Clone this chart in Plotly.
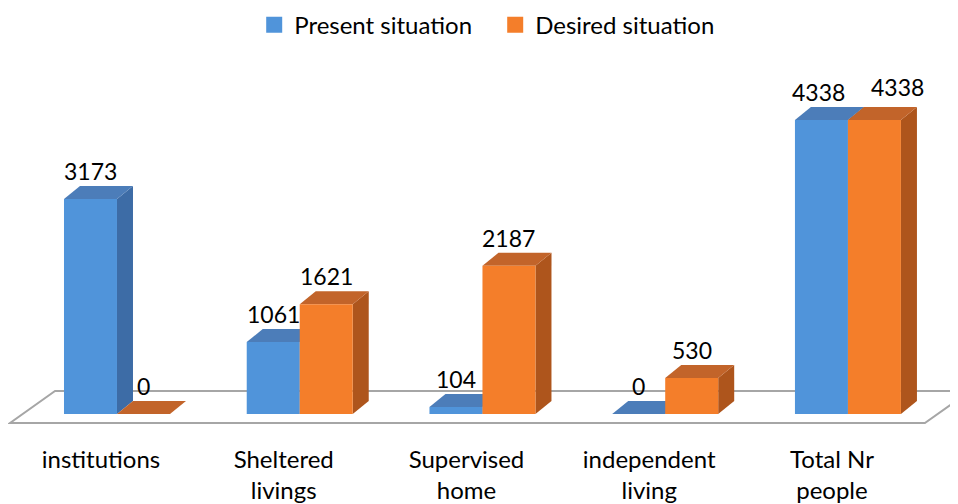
import plotly.graph_objects as go

categories = ["institutions", "Sheltered<br>livings", "Supervised<br>home", "independent<br>living", "Total Nr<br>people"]
present = [3173, 1061, 104, 0, 4338]
desired = [0, 1621, 2187, 530, 4338]
series_names = ["Present situation", "Desired situation"]

front_colors = ["#5094DA", "#F47E2A"]
side_colors = ["#3D6CA6", "#AE551C"]
top_colors = ["#4C7DB9", "#C2642A"]

BAR_W = 0.29          # bar width in category units
DX = 0.0876           # 3D depth offset (x units)
DY = 192              # 3D depth offset (y units)
FLOOR = dict(front_y=-133, back_y=339, left_front=-0.585, left_back=-0.339,
             right_front=4.421, right_back=4.668)

xs = list(range(len(categories)))
fig = go.Figure()
shapes = []

f = FLOOR
shapes.append(dict(type="path", layer="below", xref="x", yref="y",
                   path=f"M {f['left_front']},{f['front_y']} L {f['right_front']},{f['front_y']} "
                        f"L {f['right_back']},{f['back_y']} L {f['left_back']},{f['back_y']} Z",
                   line=dict(color="#A6A6A6", width=2), fillcolor="rgba(255,255,255,0)"))

for s, vals in enumerate([present, desired]):
    offset = -BAR_W if s == 0 else 0.0
    fig.add_trace(go.Bar(x=xs, y=vals, base=0, width=BAR_W, offset=offset,
                         name=series_names[s], marker=dict(color=front_colors[s], line=dict(width=0)),
                         hoverinfo="y", showlegend=False, legendgroup=series_names[s]))
    for i, v in zip(xs, vals):
        x0 = i + offset
        x1 = x0 + BAR_W
        if v > 0:
            shapes.append(dict(type="path", layer="below", xref="x", yref="y",
                               path=f"M {x1},0 L {x1},{v} L {x1+DX},{v+DY} L {x1+DX},{DY} Z",
                               fillcolor=side_colors[s], line=dict(width=0)))
        shapes.append(dict(type="path", layer="below", xref="x", yref="y",
                           path=f"M {x0},{v} L {x1},{v} L {x1+DX},{v+DY} L {x0+DX},{v+DY} Z",
                           fillcolor=top_colors[s], line=dict(width=0)))

# legend entries (square swatches)
for s in range(2):
    fig.add_trace(go.Scatter(x=[None], y=[None], mode="markers", name=series_names[s],
                             legendgroup=series_names[s],
                             marker=dict(symbol="square", size=16, color=front_colors[s])))

annotations = []
for s, vals in enumerate([present, desired]):
    offset = -BAR_W if s == 0 else 0.0
    for i, v in zip(xs, vals):
        clash = abs(present[i] - desired[i]) < 300 and present[i] > 0
        xshift = (23 if s == 1 else -3) if clash else 0
        yshift = 28 + (5 if (clash and s == 1) else 0)
        annotations.append(dict(x=i + offset + BAR_W / 2, y=v, xref="x", yref="y",
                                text=str(v), showarrow=False, xshift=xshift, yshift=yshift,
                                font=dict(size=23, color="#000000")))

fig.update_layout(
    width=958, height=504,
    margin=dict(l=0, r=0, t=42, b=72, autoexpand=False),
    paper_bgcolor="white", plot_bgcolor="white",
    font=dict(family="Lato, Carlito, Calibri, sans-serif", size=24, color="#000000"),
    barmode="overlay",
    shapes=shapes, annotations=annotations,
    showlegend=True,
    legend=dict(orientation="h", x=0.257, xanchor="left", yref="container", y=0.966, yanchor="middle",
                font=dict(size=24), traceorder="normal", entrywidth=196, entrywidthmode="pixels"),
    xaxis=dict(range=[-0.5964, 4.646], tickvals=[i - DX for i in xs], ticktext=categories,
               showgrid=False, zeroline=False, showline=False, ticks="", fixedrange=True,
               ticklabelstandoff=3),
    yaxis=dict(range=[-384, 5372], visible=False, fixedrange=True),
)
fig.write_html("out.html")
